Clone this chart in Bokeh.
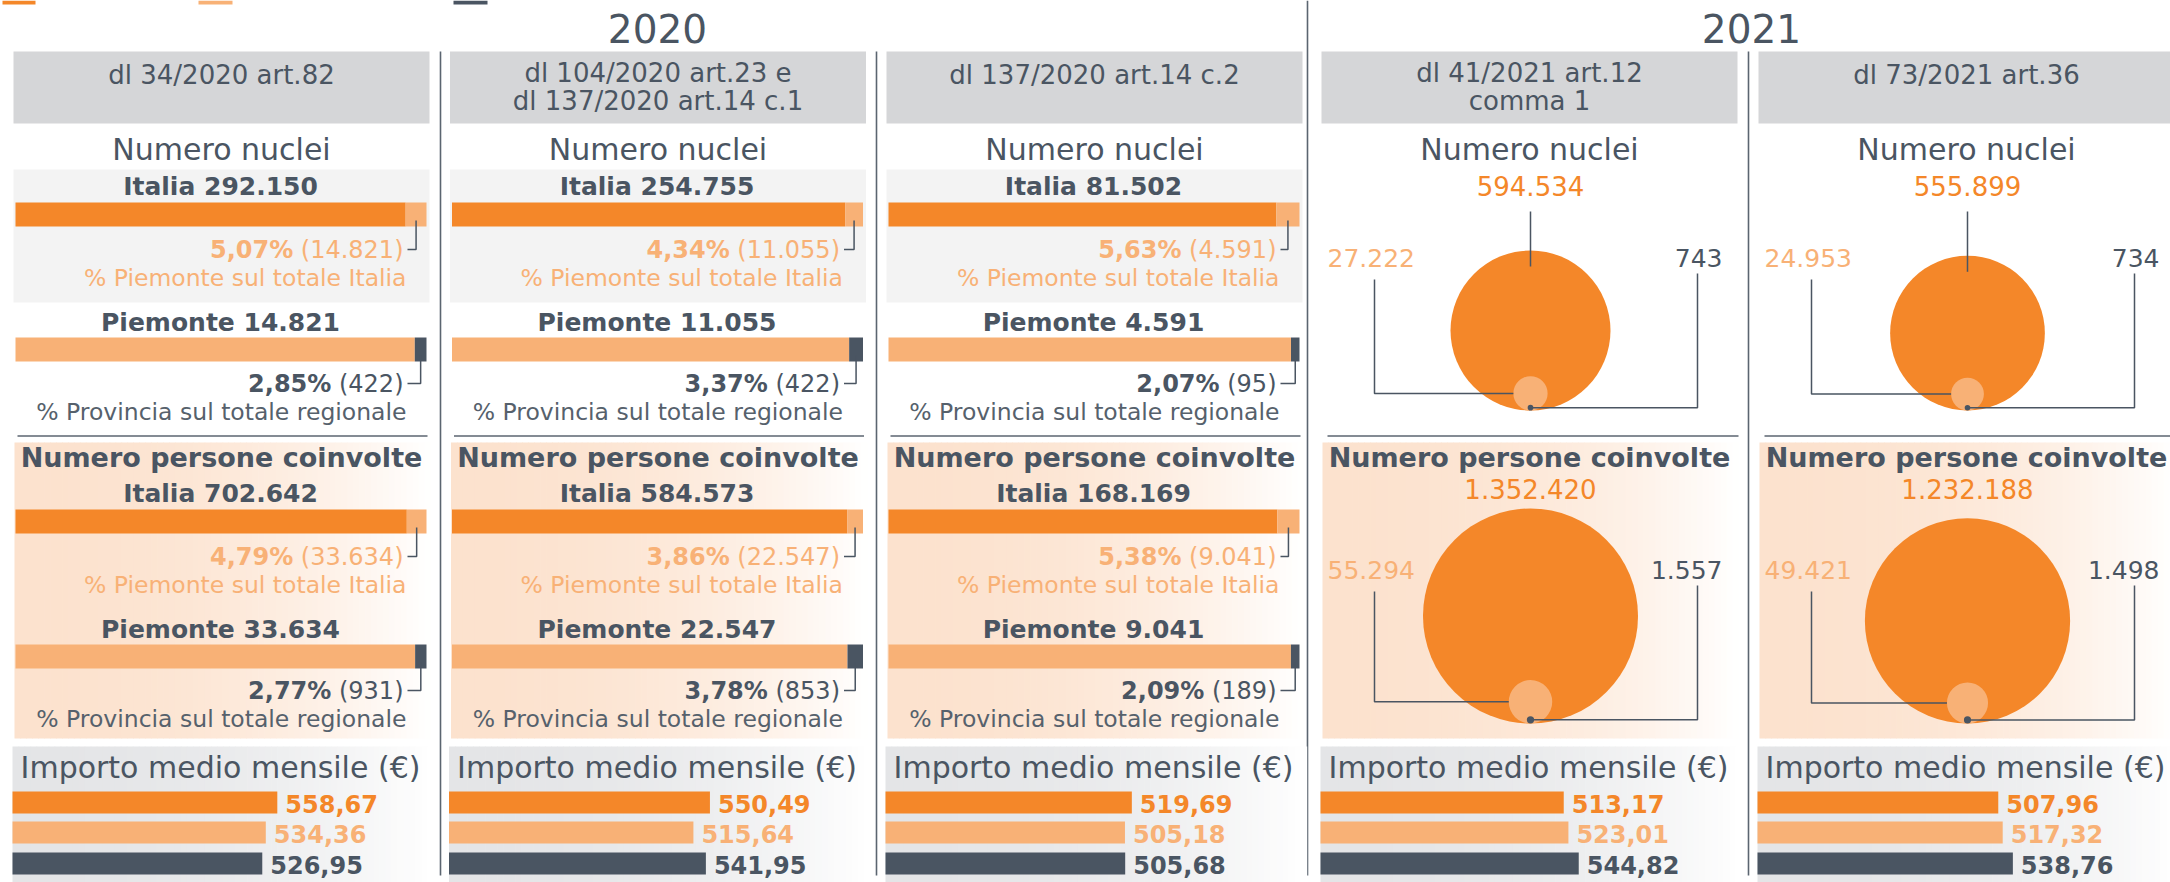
import numpy as np
from bokeh.plotting import figure
from bokeh.models import Range1d
from bokeh.embed import file_html
from bokeh.resources import INLINE
from bokeh.core.properties import value

# ---------------- data ----------------
year_labels = ["2020", "2021"]
decree_lines = [["dl 34/2020 art.82"],
                ["dl 104/2020 art.23 e", "dl 137/2020 art.14 c.1"],
                ["dl 137/2020 art.14 c.2"],
                ["dl 41/2021 art.12", "comma 1"],
                ["dl 73/2021 art.36"]]
decree_year = ["2020", "2020", "2020", "2021", "2021"]

nuclei_italia = [292150, 254755, 81502, 594534, 555899]
nuclei_piemonte = [14821, 11055, 4591, 27222, 24953]
nuclei_provincia = [422, 422, 95, 743, 734]
nuclei_pct_italia = [5.07, 4.34, 5.63]
nuclei_pct_regione = [2.85, 3.37, 2.07]

persone_italia = [702642, 584573, 168169, 1352420, 1232188]
persone_piemonte = [33634, 22547, 9041, 55294, 49421]
persone_provincia = [931, 853, 189, 1557, 1498]
persone_pct_italia = [4.79, 3.86, 5.38]
persone_pct_regione = [2.77, 3.78, 2.09]

importo_italia = [558.67, 550.49, 519.69, 513.17, 507.96]
importo_piemonte = [534.36, 515.64, 505.18, 523.01, 517.32]
importo_provincia = [526.95, 541.95, 505.68, 544.82, 538.76]

# ---------------- style ----------------
FONT = "DejaVu Sans"
LIGHT_FONT = "DejaVu Sans ExtraLight, DejaVu Sans"
ORANGE = "#F48729"
LIGHT = "#F8B176"
DARK = "#4A5562"
GRAYT = "#56616C"
LINEC = "#5B6570"

W, H = 2170, 882
p = figure(width=W, height=H, x_range=Range1d(0, W), y_range=Range1d(H, 0),
           output_backend="svg", toolbar_location=None, min_border=0,
           x_axis_type=None, y_axis_type=None)
p.grid.visible = False
p.outline_line_color = None
p.background_fill_color = "white"
p.border_fill_color = "white"


def fmt_int(n):
    return f"{n:,}".replace(",", ".")


def fmt_dec(v):
    return f"{v:.2f}".replace(".", ",")


REG_W = {',': 0.318, '.': 0.318, '%': 0.95, '(': 0.39, ')': 0.39, ' ': 0.318}


def tw(s, size):
    return sum(REG_W.get(c, 0.636) for c in s) * size


def txt(x, y, s, size, color, bold=False, align="center", font=FONT):
    p.text(x=[x], y=[y], text=[s], text_font=value(font), text_font_size=f"{size}px",
           text_color=color, text_font_style="bold" if bold else "normal",
           text_align=align, text_baseline="middle")


def rect(x0, x1, y0, y1, color):
    p.quad(left=[x0], right=[x1], top=[y0], bottom=[y1], fill_color=color, line_color=None)


def gradient(x0, x1, y0, y1, c0, n=70, power=2.0):
    edges = np.linspace(x0, x1, n + 1)
    t = (np.arange(n) + 0.5) / n
    f = t ** power
    cols = []
    for fi in f:
        rgb = [int(round(c * (1 - fi) + 255 * fi)) for c in c0]
        cols.append("#%02x%02x%02x" % tuple(rgb))
    p.quad(left=edges[:-1], right=edges[1:] + 0.7, top=[y0] * n, bottom=[y1] * n,
           fill_color=cols, line_color=None)


def pline(xs, ys, color=DARK, width=1.5):
    p.line(x=xs, y=ys, line_color=color, line_width=width)


PX = [13, 449.5, 886, 1321, 1758]
PW = 416
BAR_LEN = 411
IMP_SCALE = 0.474

# legend marks (cut at top)
for x0, x1, c in [(2, 35, ORANGE), (198, 232, LIGHT), (453, 487, DARK)]:
    rect(x0, x1, 0, 4, c)

# year titles
txt(657, 28, year_labels[0], 39, DARK, font=LIGHT_FONT)
txt(1751, 28, year_labels[1], 39, DARK, font=LIGHT_FONT)

# separators
for xs in [440, 876, 1748]:
    pline([xs, xs], [51, 875], LINEC, 1.6)
pline([1307, 1307], [0, 875], LINEC, 1.6)


def bar_block(L, y_bar, tot, part, prov, pct_it, pct_reg, first_label):
    x0 = L + 2
    x1 = x0 + BAR_LEN
    # Italia bar
    seg = pct_it / 100 * BAR_LEN
    txt(L + 207, y_bar - 16, f"{first_label} {fmt_int(tot)}", 25, DARK, bold=True)
    rect(x0, x1 - seg, y_bar, y_bar + 24, ORANGE)
    rect(x1 - seg, x1, y_bar, y_bar + 24, LIGHT)
    xc = x1 - seg / 2
    yp = y_bar + 47
    pline([xc, xc, L + 394], [y_bar + 18, yp, yp])
    paren = f"({fmt_int(part)})"
    txt(L + 390, yp, paren, 24, LIGHT, align="right")
    txt(L + 390 - tw(" " + paren, 24), yp, f"{pct_it:.2f}".replace(".", ",") + "%", 24, LIGHT,
        bold=True, align="right")
    txt(L + 393, y_bar + 75, "% Piemonte sul totale Italia", 23.5, LIGHT, align="right")
    # Piemonte bar
    yb2 = y_bar + 135
    seg2 = pct_reg / 100 * BAR_LEN
    txt(L + 207, yb2 - 15, f"Piemonte {fmt_int(part)}", 25, DARK, bold=True)
    rect(x0, x1 - seg2, yb2, yb2 + 24, LIGHT)
    rect(x1 - seg2, x1, yb2, yb2 + 24, DARK)
    xc2 = x1 - seg2 / 2
    yp2 = yb2 + 46
    pline([xc2, xc2, L + 394], [yb2 + 18, yp2, yp2])
    paren2 = f"({fmt_int(prov)})"
    txt(L + 390, yp2, paren2, 24, DARK, align="right")
    txt(L + 390 - tw(" " + paren2, 24), yp2, f"{pct_reg:.2f}".replace(".", ",") + "%", 24, DARK,
        bold=True, align="right")
    txt(L + 393, yb2 + 74, "% Provincia sul totale regionale", 23.5, GRAYT, align="right")


def bubble_block(cx, y_bottom, k, tot, part, prov, y_top_label, y_side, top_line):
    r_big = k * np.sqrt(tot) / 2
    r_mid = k * np.sqrt(part) / 2
    r_small = k * np.sqrt(prov) / 2
    p.circle(x=[cx], y=[y_bottom - r_big], radius=r_big, fill_color=ORANGE, line_color=None)
    p.circle(x=[cx], y=[y_bottom - r_mid], radius=r_mid, fill_color=LIGHT, line_color=None)
    p.circle(x=[cx], y=[y_bottom - r_small], radius=r_small, fill_color=DARK, line_color=None)
    txt(cx, y_top_label, fmt_int(tot), 26, ORANGE)
    if top_line:
        pline([cx, cx], [y_top_label + 26, y_bottom - 2 * r_big + 16])
    txt(cx - 203, y_side, fmt_int(part), 25, LIGHT, align="left")
    ym = y_bottom - r_mid
    pline([cx - 156, cx - 156, cx - r_mid], [y_side + 22, ym, ym])
    txt(cx + 192, y_side, fmt_int(prov), 25, DARK, align="right")
    ys = y_bottom - r_small
    pline([cx + 167, cx + 167, cx], [y_side + 16, ys, ys])


K_NUC = 0.2075
K_PER = 0.1849

for i, L in enumerate(PX):
    cx = L + 208
    # header
    rect(L, L + PW, 51, 123, "#D5D6D8")
    lines = decree_lines[i]
    for j, ln in enumerate(lines):
        txt(cx, (74 if len(lines) == 1 else 72) + 28 * j, ln, 26, DARK)
    txt(cx, 149, "Numero nuclei", 30, DARK)
    # section backgrounds
    gradient(L + 1, L + 417, 442, 738, (252, 226, 206), power=2.2)
    gradient(L - 1, L + 420, 746, 890, (228, 229, 231), power=2.2)
    if decree_year[i] == "2020":
        rect(L, L + PW, 169, 302, "#F3F3F3")
        pline([L + 4, L + 414], [435.5, 435.5], LINEC, 1.5)
    else:
        pline([L + 6, L + 417], [435.5, 435.5], LINEC, 1.5)
    txt(cx, 457, "Numero persone coinvolte", 27, DARK, bold=True)

    if decree_year[i] == "2020":
        bar_block(L, 202, nuclei_italia[i], nuclei_piemonte[i], nuclei_provincia[i],
                  nuclei_pct_italia[i], nuclei_pct_regione[i], "Italia")
        bar_block(L, 509, persone_italia[i], persone_piemonte[i], persone_provincia[i],
                  persone_pct_italia[i], persone_pct_regione[i], "Italia")
    else:
        bcx = L + 209
        bubble_block(bcx, 410, K_NUC, nuclei_italia[i], nuclei_piemonte[i], nuclei_provincia[i],
                     185, 257, True)
        bubble_block(bcx, 723, K_PER, persone_italia[i], persone_piemonte[i], persone_provincia[i],
                     488, 569, False)

    # importo
    txt(L + 207, 767, "Importo medio mensile (€)", 30, DARK)
    for v, c, y0 in [(importo_italia[i], ORANGE, 791), (importo_piemonte[i], LIGHT, 821),
                     (importo_provincia[i], DARK, 852)]:
        xe = L - 1 + v * IMP_SCALE
        rect(L - 1, xe, y0, y0 + 22, c)
        txt(xe + 8, y0 + 12, fmt_dec(v), 24, c, bold=True, align="left")

open("out.html", "w").write(file_html(p, INLINE))
